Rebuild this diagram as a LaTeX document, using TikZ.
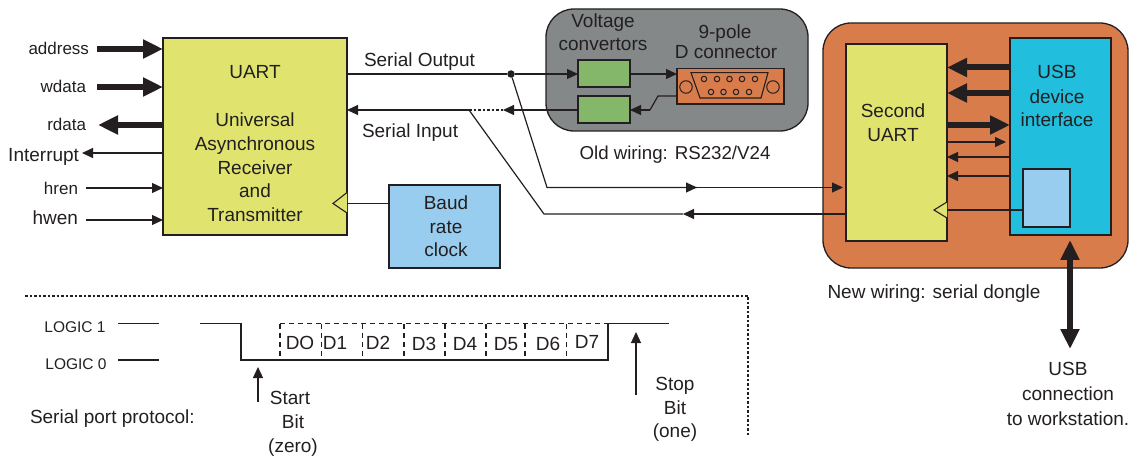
\documentclass[tikz,border=0pt]{standalone}
\usepackage{fontspec}
\setmainfont{Liberation Sans}
\usetikzlibrary{arrows.meta}
\definecolor{ink}{HTML}{231F20}
\definecolor{uartc}{HTML}{E0E46E}
\definecolor{orangec}{HTML}{D97C4C}
\definecolor{grayc}{HTML}{858889}
\definecolor{greenc}{HTML}{85B76A}
\definecolor{usbc}{HTML}{22BEDE}
\definecolor{skyc}{HTML}{99CDEF}
\tikzset{
  boxn/.style={draw=ink,line width=1.3pt,inner sep=0pt,outer sep=0pt,rectangle},
  lbl/.style={inner sep=0pt,outer sep=0pt,font=\fontsize{19}{22}\selectfont,text=ink,text height=14.7pt,text depth=1pt},
  lblb/.style={lbl,font=\fontsize{17}{20}\selectfont},
  small/.style={lbl,font=\fontsize{15.5}{18}\selectfont,text height=11.5pt,text depth=0.5pt},
  wire/.style={draw=ink,line width=1.2pt},
  thinar/.style={wire,-{Triangle[length=11pt,width=10pt]}},
  thickar/.style={draw=ink,line width=6pt,-{Triangle[length=20pt,width=18pt]}},
  dashw/.style={draw=ink,line width=1.2pt,dash pattern=on 5pt off 4pt},
  dotw/.style={draw=ink,line width=1.2pt,dash pattern=on 2.5pt off 2pt},
  clk/.style={draw=ink,line width=1.1pt,fill=uartc,line join=miter},
  pin/.style={circle,draw=ink,line width=1pt,minimum size=5.5pt,inner sep=0pt,fill=orangec},
}
\begin{document}
\begin{tikzpicture}[x=1pt,y=-1pt]
\useasboundingbox (0,0) rectangle (1130,457);
% background panels
\node[boxn,fill=grayc,rounded corners=28pt,minimum width=262pt,minimum height=122pt] (oldp) at (677,70) {};
\node[boxn,fill=orangec,rounded corners=28pt,minimum width=305pt,minimum height=245pt] (newp) at (975.5,145.5) {};
% main blocks
\node[boxn,fill=uartc,minimum width=184pt,minimum height=197pt] (uart) at (255,136.5) {};
\node[boxn,fill=skyc,minimum width=111pt,minimum height=83pt] (baud) at (444.5,226.5) {};
\node[boxn,fill=greenc,minimum width=52pt,minimum height=27pt] (vc1) at (604,73.5) {};
\node[boxn,fill=greenc,minimum width=52pt,minimum height=27pt] (vc2) at (604,109.5) {};
\node[boxn,fill=orangec,minimum width=107pt,minimum height=35.5pt] (dconn) at (730.5,86.25) {};
\node[boxn,fill=uartc,minimum width=101pt,minimum height=197pt] (uart2) at (896.5,142.5) {};
\node[boxn,fill=usbc,minimum width=101pt,minimum height=197pt] (usb) at (1060.5,136.5) {};
\node[boxn,fill=skyc,minimum width=47pt,minimum height=58pt] (clk2) at (1046.5,198) {};
% D connector
\draw[draw=ink,line width=1.1pt] (691,72.7) -- (768,72.7) -- (761,98) -- (700,98) -- cycle;
\node[circle,draw=ink,line width=1pt,minimum size=12.5pt,inner sep=0pt] (hole1) at (686,87) {};
\node[circle,draw=ink,line width=1pt,minimum size=12.5pt,inner sep=0pt] (hole2) at (773,87) {};
\node[pin] (p1) at (704,79) {};
\node[pin] (p2) at (717,79) {};
\node[pin] (p3) at (729.5,79) {};
\node[pin] (p4) at (742,79) {};
\node[pin] (p5) at (755,79) {};
\node[pin] (p6) at (711,92) {};
\node[pin] (p7) at (723.5,92) {};
\node[pin] (p8) at (736,92) {};
\node[pin] (p9) at (749,92) {};
% left labels
\node[lblb,anchor=east] (laddr) at (89,48) {address};
\node[lblb,anchor=east] (lwdata) at (86,86) {wdata};
\node[lblb,anchor=east] (lrdata) at (86,124) {rdata};
\node[lbl,anchor=east] (lint) at (79,155) {Interrupt};
\node[lblb,anchor=east] (lhren) at (78,188) {hren};
\node[lbl,anchor=east] (lhwen) at (78,218) {hwen};
% free ends
\coordinate (a0) at (97,49);
\coordinate (w0) at (97,87);
\coordinate (r0) at (98,125);
\coordinate (i0) at (82,153);
\coordinate (h0) at (86,188);
\coordinate (e0) at (86,220);
\draw[thickar] (a0) -- (uart.west |- a0);
\draw[thickar] (w0) -- (uart.west |- w0);
\draw[thickar] (uart.west |- r0) -- (r0);
\draw[thinar] (uart.west |- i0) -- (i0);
\draw[thinar] (h0) -- (uart.west |- h0);
\draw[thinar] (e0) -- (uart.west |- e0);
% UART text
\node[lbl] (t1) at (255,72) {UART};
\node[lbl] (t2) at (255,120) {Universal};
\node[lbl] (t3) at (255,144) {Asynchronous};
\node[lbl] (t4) at (255,168) {Receiver};
\node[lbl] (t5) at (255,191) {and};
\node[lbl] (t6) at (255,215) {Transmitter};
\node[lbl] (b1) at (446,203) {Baud};
\node[lbl] (b2) at (446,227) {rate};
\node[lbl] (b3) at (446,250) {clock};
% clocks
\coordinate (ck1) at (uart.east |- 0,203.5);
\draw[clk] (347,192.5) -- (333,203.5) -- (347,213);
\draw[wire] (baud.west |- ck1) -- (ck1);
\coordinate (ck2) at (uart2.east |- 0,210);
\draw[clk] (947,202) -- (934,210) -- (947,218);
\draw[wire] (clk2.west |- ck2) -- (ck2);
% serial output
\node[circle,fill=ink,minimum size=7.5pt,inner sep=0pt,outer sep=0pt] (dot) at (511,74) {};
\coordinate (so0) at (uart.east |- dot);
\draw[wire] (so0) -- (dot);
\draw[thinar] (dot) -- (vc1.west |- dot);
\coordinate (br1) at (547,187.5);
\coordinate (brm) at (697,187.5);
\coordinate (bre) at (843,187.5);
\draw[wire] (dot) -- (br1) -- (brm);
\draw[thinar] (br1) -- (brm);
\draw[thinar] (brm) -- (bre);
% serial input
\coordinate (si0) at (469,110);
\coordinate (si1) at (503,110);
\coordinate (si3) at (uart.east |- si0);
\draw[thinar] (si0) -- (si3);
\draw[dotw] (si0) -- (si1);
\draw[thinar] (vc2.west |- si1) -- (si1);
\coordinate (br2) at (544,214);
\coordinate (brn) at (683,214);
\draw[wire] (si0) -- (br2) -- (brn);
\draw[thinar] (uart2.west |- brn) -- (brn);
% old wiring
\draw[thinar] (vc1.east |- 0,74) -- (dconn.west |- 0,74);
\coordinate (dq) at (658,96);
\coordinate (dr) at (650,110);
\draw[wire] (dconn.west |- dq) -- (dq) -- (dr);
\draw[thinar] (dr) -- (vc2.east |- dr);
\node[lbl] (lv1) at (603,21) {Voltage};
\node[lbl] (lv2) at (603,44) {convertors};
\node[lbl] (ld1) at (725,32) {9-pole};
\node[lbl] (ld2) at (726,52) {D connector};
\node[lbl,font=\fontsize{18.7}{22}\selectfont] (lold) at (675,153) {Old wiring: RS232/V24};
\node[lbl,anchor=west] (lso) at (364,60) {Serial Output};
\node[lbl,anchor=west] (lsi) at (362,131) {Serial Input};
% dongle
\coordinate (u1) at (0,67.5);
\coordinate (u2) at (0,93);
\coordinate (u3) at (0,125);
\coordinate (u4) at (0,142);
\coordinate (u4e) at (1006,142);
\coordinate (u5) at (0,157);
\coordinate (u6) at (0,176);
\draw[thickar] (usb.west |- u1) -- (uart2.east |- u1);
\draw[thickar] (usb.west |- u2) -- (uart2.east |- u2);
\draw[thickar] (uart2.east |- u3) -- (usb.west |- u3);
\draw[thinar] (uart2.east |- u4) -- (u4e);
\draw[thinar] (usb.west |- u5) -- (uart2.east |- u5);
\draw[thinar] (usb.west |- u6) -- (uart2.east |- u6);
\node[lbl] (ls1) at (893,111) {Second};
\node[lbl] (ls2) at (893,135) {UART};
\node[lbl] (lu1) at (1057,72) {USB};
\node[lbl] (lu2) at (1057,97) {device};
\node[lbl] (lu3) at (1057,120) {interface};
\node[lbl] (lnew) at (934,292) {New wiring: serial dongle};
% USB cable
\coordinate (c0) at (1070,240);
\coordinate (c1) at (1070,349);
\draw[draw=ink,line width=6pt,{Triangle[length=20pt,width=18pt]}-{Triangle[length=20pt,width=18pt]}] (c0) -- (c1);
\node[lbl] (lc1) at (1068,369) {USB};
\node[lbl] (lc2) at (1068,394) {connection};
\node[lbl] (lc3) at (1068,419) {to workstation.};
% protocol frame
\coordinate (f0) at (25,296);
\coordinate (f1) at (748,296);
\coordinate (f2) at (748,436);
\draw[dotw] (f0) -- (f1) -- (f2);
% protocol
\node[small] (l1) at (75,327) {LOGIC 1};
\node[small] (l0) at (76,364) {LOGIC 0};
\coordinate (la) at (118,323.5);
\coordinate (lb) at (159,323.5);
\coordinate (lc) at (118,360);
\coordinate (ld) at (159,360);
\draw[wire] (la) -- (lb);
\draw[wire] (lc) -- (ld);
\coordinate (s0) at (200,323.5);
\coordinate (s1) at (241,323.5);
\coordinate (s2) at (241,360);
\coordinate (s3) at (608,360);
\coordinate (s4) at (608,323.5);
\coordinate (s5) at (669,323.5);
\coordinate (dt) at (280,323.5);
\draw[dashw] (dt) -- (s4);
\foreach \x in {280,321.5,362.5,404,445,486,525,566.5}
  \draw[dashw] (\x,323.5) -- (\x,360);
\draw[draw=ink,line width=1.5pt] (s0) -- (s1) -- (s2) -- (s3) -- (s4) -- (s5);
\node[lbl] (d0) at (300,343) {DO};
\node[lbl] (d1) at (335,343) {D1};
\node[lbl] (d2) at (378,343) {D2};
\node[lbl] (d3) at (424,344) {D3};
\node[lbl] (d4) at (465,344) {D4};
\node[lbl] (d5) at (506,344) {D5};
\node[lbl] (d6) at (548,344) {D6};
\node[lbl] (d7) at (587,342) {D7};
\coordinate (sa0) at (258,402);
\coordinate (sa1) at (258,367);
\draw[thinar] (sa0) -- (sa1);
\coordinate (sb0) at (636,395);
\coordinate (sb1) at (636,332);
\draw[thinar] (sb0) -- (sb1);
\node[lbl] (ls) at (290,398) {Start};
\node[lbl] (lb1) at (293,422) {Bit};
\node[lbl] (lz) at (293,446) {(zero)};
\node[lbl] (lp) at (675,384) {Stop};
\node[lbl] (lb2) at (675,408) {Bit};
\node[lbl] (lon) at (675,431) {(one)};
\node[lbl,anchor=west] (lpr) at (30,417) {Serial port protocol:};
\end{tikzpicture}
\end{document}
